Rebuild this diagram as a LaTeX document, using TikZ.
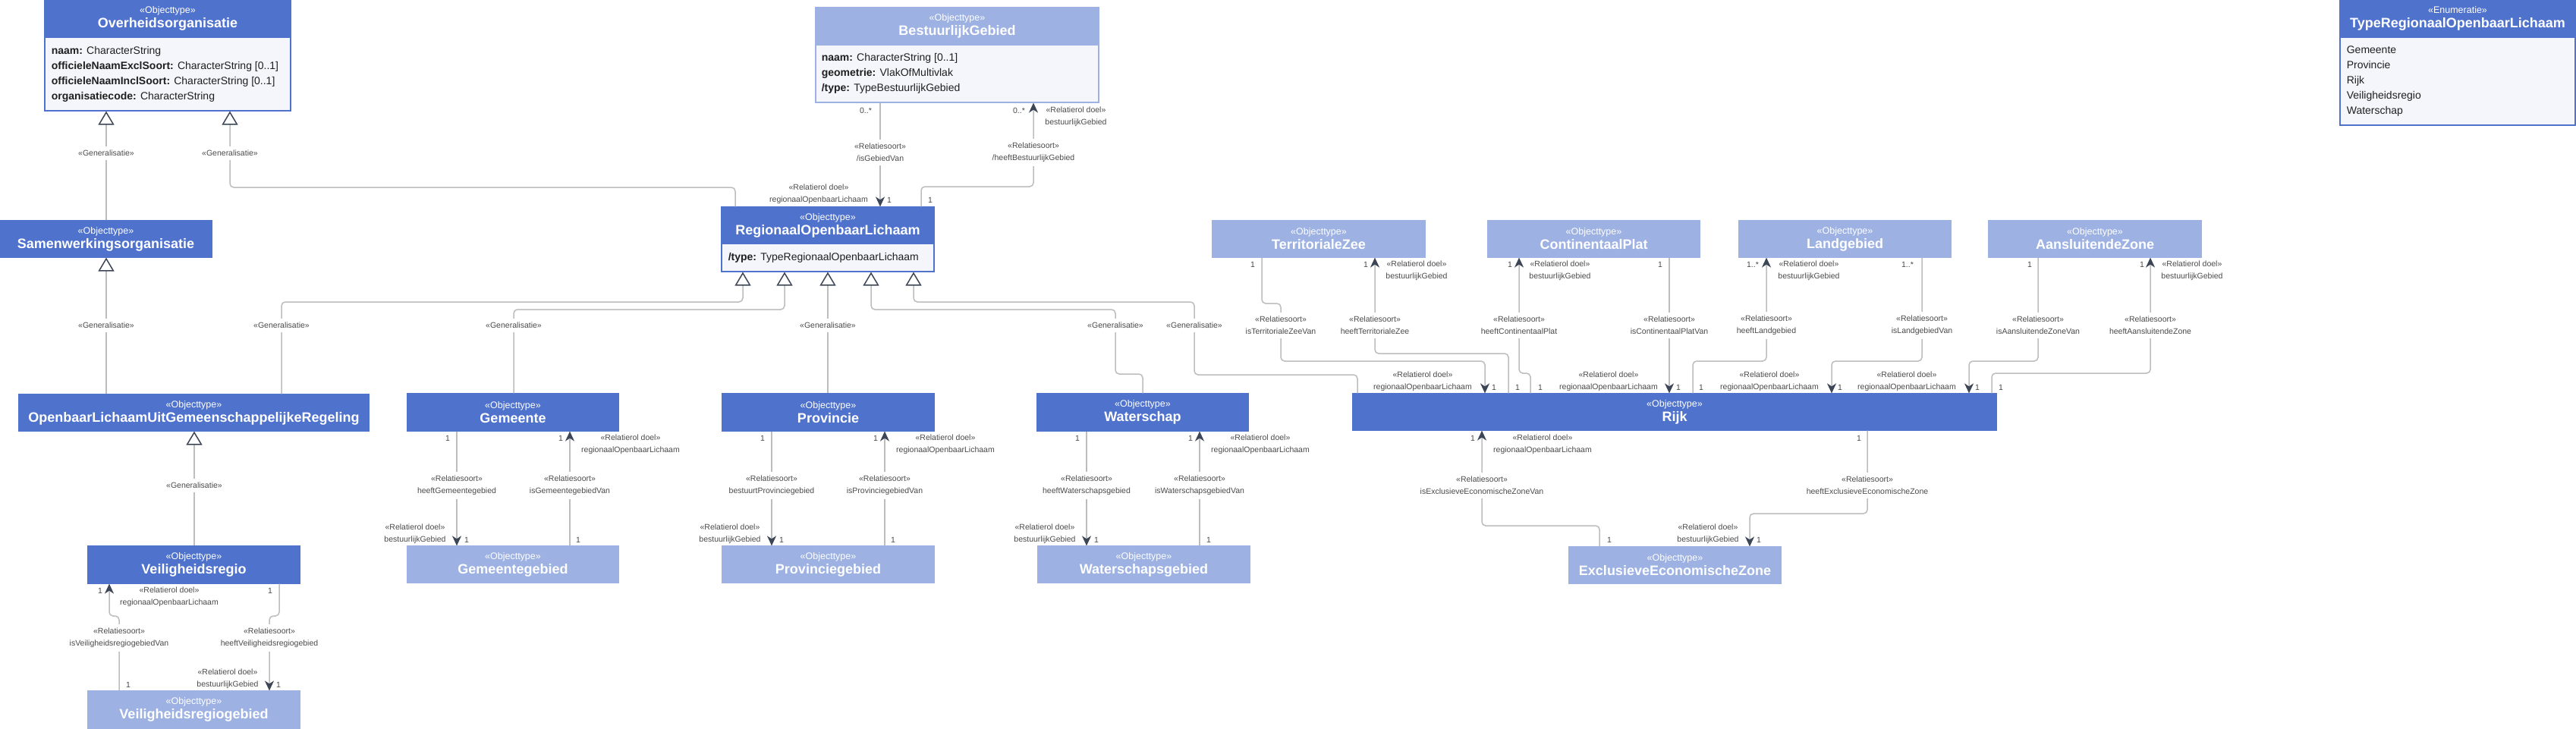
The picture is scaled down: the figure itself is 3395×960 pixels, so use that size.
\documentclass[tikz,border=0pt]{standalone}
\usepackage{fontspec}
\setmainfont{Liberation Sans}
\usetikzlibrary{arrows.meta}
\definecolor{hdrblue}{HTML}{4F72CD}
\definecolor{lightblue}{HTML}{9DB1E3}
\definecolor{bodybg}{HTML}{F5F6FB}
\definecolor{linegray}{HTML}{BDBDBD}
\definecolor{tipdark}{HTML}{3C4657}
\definecolor{lblgray}{HTML}{4A4A4A}
\definecolor{txtdark}{HTML}{1F1F1F}
\newcommand\stfont{\fontsize{6.25}{7.5}\selectfont}
\newcommand\ttfont{\fontsize{9}{9.5}\selectfont\bfseries}
\newcommand\umlrect[6]{\node[#2, minimum width={(#5-#3)*0.5pt}, minimum height={(#6-#4)*0.5pt}] (#1) at ({(#3+#5)/2},{(#4+#6)/2}) {};}
\newcommand\umlhead[8]{\node[#2, minimum width={(#5-#3)*0.5pt}, minimum height={(#6-#4)*0.5pt}] (#1) at ({(#3+#5)/2},{(#4+#6)/2}) {{\stfont «#7»}\\{\ttfont #8}};}
\newcommand\lbl[4]{\node[lab] (#1) at (#2,#3) {#4};}
\newcommand\rl[4]{\node[role] (#1) at (#2,#3) {«Relatierol doel»\\#4};}
\newcommand\ml[4]{\node[mult] (#1) at (#2,#3) {#4};}
\tikzset{
  hdr/.style={fill=hdrblue, draw=hdrblue, line width=0.6pt, text=white, align=center, inner sep=0pt, font=\fontsize{9}{9.5}\selectfont},
  lhdr/.style={hdr, fill=lightblue, draw=lightblue},
  body/.style={fill=bodybg, draw=hdrblue, line width=0.6pt, inner sep=0pt},
  lbody/.style={body, draw=lightblue},
  attr/.style={anchor=west, align=left, inner sep=0pt, text=txtdark, font=\fontsize{7}{10}\selectfont},
  conn/.style={draw=linegray, line width=0.75pt, rounded corners=2.5pt},
  gen/.style={conn, -{Triangle[open, length=9pt, width=10.5pt, color=tipdark, line width=0.75pt]}},
  assoc/.style={conn, -{Stealth[length=6.5pt, width=6pt, inset=2pt, color=tipdark]}},
  lab/.style={fill=white, align=center, inner xsep=1pt, inner ysep=2.5pt, text=lblgray, font=\fontsize{5.25}{8}\selectfont},
  role/.style={align=center, inner sep=0pt, text=lblgray, font=\fontsize{5.25}{8}\selectfont},
  mult/.style={inner sep=0pt, text=lblgray, font=\fontsize{5.25}{8}\selectfont}
}
\begin{document}
\begin{tikzpicture}[x=0.5pt, y=-0.5pt]
\useasboundingbox[fill=white] (0,0) rectangle (3395,960);
% classes
\umlhead{ovh}{hdr}{59}{0}{383}{49}{Objecttype}{Overheidsorganisatie}
\umlrect{ovb}{body}{59}{49}{383}{146}
\node[attr] (ovt) at ([xshift=4.5pt]ovb.west) {\textbf{naam:} CharacterString\\\textbf{officieleNaamExclSoort:} CharacterString [0..1]\\\textbf{officieleNaamInclSoort:} CharacterString [0..1]\\\textbf{organisatiecode:} CharacterString};
\umlhead{bgh}{lhdr}{1075}{10}{1448}{59}{Objecttype}{BestuurlijkGebied}
\umlrect{bgb}{lbody}{1075}{59}{1448}{135}
\node[attr] (bgt) at ([xshift=4pt]bgb.west) {\textbf{naam:} CharacterString [0..1]\\\textbf{geometrie:} VlakOfMultivlak\\\textbf{/type:} TypeBestuurlijkGebied};
\umlhead{rolh}{hdr}{951}{273}{1231}{321}{Objecttype}{RegionaalOpenbaarLichaam}
\umlrect{rolb}{body}{951}{321}{1231}{358}
\node[attr] (rolt) at ([xshift=4.5pt]rolb.west) {\textbf{/type:} TypeRegionaalOpenbaarLichaam};
\umlhead{swo}{hdr}{0}{291}{279}{339}{Objecttype}{Samenwerkingsorganisatie}
\umlhead{olugr}{hdr}{25}{520}{486}{568}{Objecttype}{OpenbaarLichaamUitGemeenschappelijkeRegeling}
\umlhead{vr}{hdr}{116}{720}{395}{769}{Objecttype}{Veiligheidsregio}
\umlhead{vrg}{lhdr}{116}{911}{395}{960}{Objecttype}{Veiligheidsregiogebied}
\umlhead{gem}{hdr}{537}{519}{815}{568}{Objecttype}{Gemeente}
\umlhead{gemg}{lhdr}{537}{720}{815}{768}{Objecttype}{Gemeentegebied}
\umlhead{prov}{hdr}{952}{519}{1231}{568}{Objecttype}{Provincie}
\umlhead{provg}{lhdr}{952}{720}{1231}{768}{Objecttype}{Provinciegebied}
\umlhead{ws}{hdr}{1367}{519}{1645}{568}{Objecttype}{Waterschap}
\umlhead{wsg}{lhdr}{1368}{720}{1647}{768}{Objecttype}{Waterschapsgebied}
\umlhead{tz}{lhdr}{1598}{291}{1878}{339}{Objecttype}{TerritorialeZee}
\umlhead{cp}{lhdr}{1961}{291}{2240}{339}{Objecttype}{ContinentaalPlat}
\umlhead{lg}{lhdr}{2292}{291}{2571}{339}{Objecttype}{Landgebied}
\umlhead{az}{lhdr}{2621}{291}{2901}{339}{Objecttype}{AansluitendeZone}
\umlhead{rijk}{hdr}{1783}{519}{2631}{567}{Objecttype}{Rijk}
\umlhead{eez}{lhdr}{2068}{721}{2347}{769}{Objecttype}{ExclusieveEconomischeZone}
\umlhead{trolh}{hdr}{3084}{0}{3394}{49}{Enumeratie}{TypeRegionaalOpenbaarLichaam}
\umlrect{trolb}{body}{3084}{49}{3394}{165}
\node[attr] (trolt) at ([xshift=4.5pt]trolb.west) {Gemeente\\Provincie\\Rijk\\Veiligheidsregio\\Waterschap};
% generalisations
\draw[gen] (swo.north -| 140,0) -- (ovb.south -| 140,0);
\draw[gen] (rolh.north -| 969,0) -- (969,247) -- (303,247) -- (ovb.south -| 303,0);
\draw[gen] (olugr.north -| 140,0) -- (swo.south -| 140,0);
\draw[gen] (olugr.north -| 371,0) -- (371,398) -- (979,398) -- (rolb.south -| 979,0);
\draw[gen] (gem.north -| 677,0) -- (677,408) -- (1034,408) -- (rolb.south -| 1034,0);
\draw[gen] (prov.north -| 1091,0) -- (rolb.south -| 1091,0);
\draw[gen] (ws.north -| 1506,0) -- (1506,493) -- (1470,493) -- (1470,408) -- (1148,408) -- (rolb.south -| 1148,0);
\draw[gen] (rijk.north -| 1789,0) -- (1789,494) -- (1574,494) -- (1574,398) -- (1204,398) -- (rolb.south -| 1204,0);
\draw[gen] (vr.north -| 256,0) -- (olugr.south -| 256,0);
% associations
\draw[assoc] (bgb.south -| 1160,0) -- (rolh.north -| 1160,0);
\draw[assoc] (rolh.north -| 1214,0) -- (1214,246) -- (1362,246) -- (bgb.south -| 1362,0);
\draw[assoc] (vrg.north -| 157,0) -- (157,812) -- (144,812) -- (vr.south -| 144,0);
\draw[assoc] (vr.south -| 368,0) -- (368,812) -- (355,812) -- (vrg.north -| 355,0);
\draw[assoc] (gem.south -| 602,0) -- (gemg.north -| 602,0);
\draw[assoc] (gemg.north -| 751,0) -- (gem.south -| 751,0);
\draw[assoc] (prov.south -| 1017,0) -- (provg.north -| 1017,0);
\draw[assoc] (provg.north -| 1166,0) -- (prov.south -| 1166,0);
\draw[assoc] (ws.south -| 1432,0) -- (wsg.north -| 1432,0);
\draw[assoc] (wsg.north -| 1581,0) -- (ws.south -| 1581,0);
\draw[assoc] (tz.south -| 1663,0) -- (1663,400) -- (1688,400) -- (1688,476) -- (1957,476) -- (rijk.north -| 1957,0);
\draw[assoc] (rijk.north -| 1988,0) -- (1988,466) -- (1812,466) -- (tz.south -| 1812,0);
\draw[assoc] (rijk.north -| 2017,0) -- (2017,492) -- (2002,492) -- (cp.south -| 2002,0);
\draw[assoc] (cp.south -| 2200,0) -- (rijk.north -| 2200,0);
\draw[assoc] (rijk.north -| 2231,0) -- (2231,476) -- (2328,476) -- (lg.south -| 2328,0);
\draw[assoc] (lg.south -| 2533,0) -- (2533,476) -- (2414,476) -- (rijk.north -| 2414,0);
\draw[assoc] (az.south -| 2686,0) -- (2686,476) -- (2595,476) -- (rijk.north -| 2595,0);
\draw[assoc] (rijk.north -| 2625,0) -- (2625,492) -- (2834,492) -- (az.south -| 2834,0);
\draw[assoc] (eez.north -| 2108,0) -- (2108,693) -- (1953,693) -- (rijk.south -| 1953,0);
\draw[assoc] (rijk.south -| 2461,0) -- (2461,677) -- (2306,677) -- (eez.north -| 2306,0);
% generalisation labels
\lbl{g1}{140}{202}{«Generalisatie»}
\lbl{g2}{303}{202}{«Generalisatie»}
\lbl{g3}{140}{429}{«Generalisatie»}
\lbl{g4}{371}{429}{«Generalisatie»}
\lbl{g5}{677}{429}{«Generalisatie»}
\lbl{g6}{1091}{429}{«Generalisatie»}
\lbl{g7}{1470}{429}{«Generalisatie»}
\lbl{g8}{1574}{429}{«Generalisatie»}
\lbl{g9}{256}{640}{«Generalisatie»}
% relation labels
\lbl{r1}{1160}{201}{«Relatiesoort»\\/isGebiedVan}
\lbl{r2}{1362}{201}{«Relatiesoort»\\/heeftBestuurlijkGebied}
\lbl{r3}{157}{841}{«Relatiesoort»\\isVeiligheidsregiogebiedVan}
\lbl{r4}{355}{841}{«Relatiesoort»\\heeftVeiligheidsregiogebied}
\lbl{r5}{602}{640}{«Relatiesoort»\\heeftGemeentegebied}
\lbl{r6}{751}{640}{«Relatiesoort»\\isGemeentegebiedVan}
\lbl{r7}{1017}{640}{«Relatiesoort»\\bestuurtProvinciegebied}
\lbl{r8}{1166}{640}{«Relatiesoort»\\isProvinciegebiedVan}
\lbl{r9}{1432}{640}{«Relatiesoort»\\heeftWaterschapsgebied}
\lbl{r10}{1581}{640}{«Relatiesoort»\\isWaterschapsgebiedVan}
\lbl{r11}{1688}{429}{«Relatiesoort»\\isTerritorialeZeeVan}
\lbl{r12}{1812}{429}{«Relatiesoort»\\heeftTerritorialeZee}
\lbl{r13}{2002}{429}{«Relatiesoort»\\heeftContinentaalPlat}
\lbl{r14}{2200}{429}{«Relatiesoort»\\isContinentaalPlatVan}
\lbl{r15}{2328}{429}{«Relatiesoort»\\heeftLandgebied}
\lbl{r16}{2533}{429}{«Relatiesoort»\\isLandgebiedVan}
\lbl{r17}{2686}{429}{«Relatiesoort»\\isAansluitendeZoneVan}
\lbl{r18}{2834}{429}{«Relatiesoort»\\heeftAansluitendeZone}
\lbl{r19}{1953}{640}{«Relatiesoort»\\isExclusieveEconomischeZoneVan}
\lbl{r20}{2461}{640}{«Relatiesoort»\\heeftExclusieveEconomischeZone}
% role labels
\rl{o1}{1079}{256}{regionaalOpenbaarLichaam}
\rl{o2}{1418}{154}{bestuurlijkGebied}
\rl{o3}{223}{787}{regionaalOpenbaarLichaam}
\rl{o4}{300}{895}{bestuurlijkGebied}
\rl{o5}{547}{704}{bestuurlijkGebied}
\rl{o6}{831}{586}{regionaalOpenbaarLichaam}
\rl{o7}{962}{704}{bestuurlijkGebied}
\rl{o8}{1246}{586}{regionaalOpenbaarLichaam}
\rl{o9}{1377}{704}{bestuurlijkGebied}
\rl{o10}{1661}{586}{regionaalOpenbaarLichaam}
\rl{o11}{1875}{503}{regionaalOpenbaarLichaam}
\rl{o12}{1867}{357}{bestuurlijkGebied}
\rl{o13}{2056}{357}{bestuurlijkGebied}
\rl{o14}{2120}{503}{regionaalOpenbaarLichaam}
\rl{o15}{2384}{357}{bestuurlijkGebied}
\rl{o16}{2332}{503}{regionaalOpenbaarLichaam}
\rl{o17}{2513}{503}{regionaalOpenbaarLichaam}
\rl{o18}{2889}{357}{bestuurlijkGebied}
\rl{o19}{2033}{586}{regionaalOpenbaarLichaam}
\rl{o20}{2251}{704}{bestuurlijkGebied}
% multiplicities
\ml{m1}{1141}{146}{0..*}
\ml{m2}{1172}{264}{1}
\ml{m3}{1226}{264}{1}
\ml{m4}{1343}{146}{0..*}
\ml{m5}{132}{779}{1}
\ml{m6}{169}{903}{1}
\ml{m7}{356}{779}{1}
\ml{m8}{367}{903}{1}
\ml{m9}{590}{578}{1}
\ml{m10}{615}{712}{1}
\ml{m11}{739}{578}{1}
\ml{m12}{762}{712}{1}
\ml{m13}{1005}{578}{1}
\ml{m14}{1030}{712}{1}
\ml{m15}{1154}{578}{1}
\ml{m16}{1177}{712}{1}
\ml{m17}{1420}{578}{1}
\ml{m18}{1445}{712}{1}
\ml{m19}{1569}{578}{1}
\ml{m20}{1593}{712}{1}
\ml{m21}{1651}{349}{1}
\ml{m22}{1969}{511}{1}
\ml{m23}{2000}{511}{1}
\ml{m24}{1800}{349}{1}
\ml{m25}{2030}{511}{1}
\ml{m26}{1990}{349}{1}
\ml{m27}{2188}{349}{1}
\ml{m28}{2212}{511}{1}
\ml{m29}{2242}{511}{1}
\ml{m30}{2310}{349}{1..*}
\ml{m31}{2514}{349}{1..*}
\ml{m32}{2425}{511}{1}
\ml{m33}{2675}{349}{1}
\ml{m34}{2606}{511}{1}
\ml{m35}{2637}{511}{1}
\ml{m36}{2823}{349}{1}
\ml{m37}{1941}{578}{1}
\ml{m38}{2121}{712}{1}
\ml{m39}{2450}{578}{1}
\ml{m40}{2318}{712}{1}
\end{tikzpicture}
\end{document}
